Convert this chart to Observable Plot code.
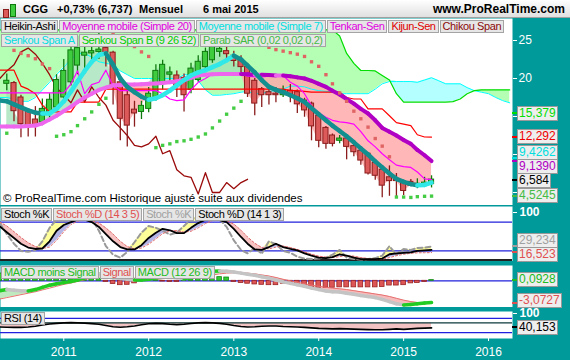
<!DOCTYPE html>
<html><head><meta charset="utf-8">
<script src="https://cdn.jsdelivr.net/npm/d3@7"></script>
<script src="https://cdn.jsdelivr.net/npm/@observablehq/plot@0.6"></script>
<style>
html,body{margin:0;padding:0;background:#ffffff;}
#chart{position:relative;width:570px;height:360px;background:#009a9a;overflow:hidden;font-family:"Liberation Sans",Arial,Helvetica,sans-serif;}
#chart svg{position:absolute;left:0;}
.hdr{position:absolute;left:0;top:0;width:570px;height:17px;background:linear-gradient(#ffffff,#e0e0e0);border-bottom:1px solid #a0a0a0;}
.hdr span{position:absolute;top:2px;font-weight:bold;font-size:11px;line-height:14px;color:#000;white-space:nowrap;}
.hdr span.site{font-size:12px;}
.leg{position:absolute;left:1px;display:flex;gap:1px;}
.leg span{display:block;height:11px;line-height:11px;font-size:11px;letter-spacing:-0.4px;padding:0 2px;background:#e6e6e6;border:1px solid #a4a4a4;white-space:nowrap;}
.val{position:absolute;left:517px;height:13px;line-height:13px;font-size:12px;padding:0 1px;background:#eeeeee;border:1px solid #999;white-space:nowrap;}
.mk{position:absolute;left:512px;width:5px;height:2px;}
.note{position:absolute;left:3px;top:192px;font-size:11.5px;color:#000;white-space:nowrap;}
.boldaxis text{font-weight:bold;}
</style></head>
<body>
<div id="chart"></div>
<script>
// ---------- DATA ----------
const firstMonth = [2010, 3];          // April 2010 = first month of the indicator series
const yearTicks = [2011, 2012, 2013, 2014, 2015, 2016];
const priceTicks = [5, 10, 15, 20, 25];
const priceTickLabels = [20, 25];      // the other tick labels sit under the value boxes
const headerText = ["CGG", "+0,73% (6,737)", "Mensuel", "6 mai 2015", "www.ProRealTime.com"];
const noteText = "© ProRealTime.com  Historique ajusté suite aux dividendes";

// Heikin-Ashi candles, May 2010 .. May 2015
const haOpen  = [19.3,19.4,17.5,15.8,14.6,14.2,15.3,16.2,17.5,19.5, 21.7,23.0,23.3,23.5,24.0,23.4,19.5,17.8,15.9,15.6, 16.0,17.3,19.4,20.5,20.4,20.1,18.5,19.8,21.5,22.4, 23.5,23.6,23.0,22.4,21.5,19.7,18.6,18.2,18.0,17.8, 18.4,18.2,17.1,16.7,15.1,13.5,12.5,11.8,12.1,11.1, 10.5,10.1,8.9,8.0,7.0,6.7,6.4,6.4,6.0,6.1,6.1];
const haClose = [19.7,15.7,14.0,13.6,13.8,16.0,17.2,19.8,21.0,23.7, 24.0,23.4,23.6,23.8,23.4,18.9,14.7,13.8,15.4,16.4, 18.0,21.0,21.8,20.8,19.0,17.8,21.3,22.2,23.5,24.3, 23.9,23.2,22.3,21.5,18.0,16.7,17.8,17.8,17.8,18.4, 17.8,16.6,15.8,13.7,11.8,11.4,11.4,12.1,11.0,10.3, 9.2,7.5,7.2,5.9,6.5,6.5,5.2,5.9,6.15,6.3,6.7];
const haHigh  = [20.6,19.6,17.8,16.0,16.3,17.3,18.0,20.5,22.5,24.5, 25.5,25.0,25.8,26.0,25.5,23.6,20.0,18.5,17.0,17.0, 18.8,21.8,22.4,21.5,21.0,20.6,22.0,23.0,24.0,25.0, 24.8,24.3,23.6,23.0,22.0,20.0,18.8,19.0,18.8,19.0, 19.2,18.5,17.4,16.9,15.3,13.7,12.7,12.5,12.3,11.3, 10.7,10.2,9.0,8.2,8.5,7.5,6.6,6.7,6.8,7.0,7.2];
const haLow   = [18.4,14.3,12.2,12.3,12.3,13.8,14.8,15.8,17.0,19.0, 20.5,20.6,22.0,22.5,21.5,16.5,11.8,11.0,13.6,14.6, 15.5,17.0,18.5,19.5,17.5,15.6,18.0,19.5,21.0,22.0, 22.8,22.5,21.5,20.5,17.5,15.1,16.2,16.5,16.8,17.5, 16.8,15.4,14.9,11.8,10.9,10.7,11.0,11.4,9.3,9.7, 8.6,7.3,6.6,4.3,4.5,4.4,4.6,5.8,5.5,5.8,5.6];

// indicator lines, Apr 2010 .. May 2015
const sma20  = [13.7,13.7,13.7,13.7,13.75,13.8,14.1,14.6,15.1,15.7, 16.3,16.9,17.5,18.0,18.5,18.8,19.1,19.15,19.2,19.2, 19.25,19.3,19.35,19.4,19.5,19.65,19.8,20.1,20.4,20.5, 20.55,20.6,20.6,20.6,20.6,20.55,20.5,20.5,20.45,20.4, 20.4,20.3,20.15,20.0,19.7,19.3,18.9,18.4,17.9,17.3, 16.7,16.0,15.4,14.5,13.5,13.0,12.5,11.9,11.4,10.6,9.9,9.139];
const sma7   = [17.1,17.0,16.6,16.2,15.8,15.5,15.4,15.4,16.0,17.0, 18.3,19.6,21.0,22.2,23.1,23.3,21.8,20.0,18.9,18.2, 17.6,17.2,17.4,17.8,18.4,19.1,19.8,20.4,20.8,21.1, 21.5,21.9,22.4,23.0,22.5,21.7,20.8,19.8,18.9,18.5, 18.2,17.8,17.4,16.9,16.1,15.3,14.5,13.8,13.1,12.4, 11.6,10.8,10.0,9.1,8.3,7.5,6.8,6.4,6.1,5.95,6.0,6.3];
const tenkan = [18.1,18.1,18.1,18.1,18.1,18.1,18.1,18.1,18.1,18.1, 19.3,21.0,18.0,19.2,19.5,21.1,19.0,18.4,18.4,18.4, 18.4,18.4,18.4,18.0,17.3,17.1,17.2,18.5,19.5,20.0, 20.6,20.6,20.6,20.6,20.6,20.3,20.2,20.2,20.3,20.4, 20.4,19.5,19.0,18.0,16.4,15.5,14.9,14.5,14.3,14.2, 14.0,13.0,11.8,11.0,10.1,9.3,8.6,8.4,8.3,7.7,6.8,6.7];
const kijun  = [21.1,21.1,21.1,19.0,18.6,18.0,16.5,15.6,15.6,15.6, 15.6,16.9,16.9,16.9,16.9,18.6,18.6,18.6,18.6,18.6, 18.6,18.6,18.6,18.6,18.6,18.6,18.6,18.6,18.6,18.6, 18.6,18.6,18.6,18.6,18.6,18.6,18.6,18.6,18.6,18.6, 18.6,18.4,18.4,18.3,18.2,18.2,18.2,18.2,18.2,17.5, 17.3,17.3,16.0,16.0,16.0,15.1,14.2,14.0,13.8,12.6,12.3,12.292];
// Chikou span (close shifted 26 months back), Apr 2010 .. Mar 2013
const chikou = [20.0,21.0,21.8,23.5,24.0,23.2,22.0,20.5,18.8,17.8, 16.8,18.5,16.9,18.9,17.5,16.5,14.5,13.5,12.5,11.2, 11.0,11.4,12.4,10.1,10.5,8.0,7.2,7.0,4.8,7.6, 5.0,5.0,6.3,5.5,6.3,6.737];
// Senkou spans (shifted 26 months forward), Apr 2010 .. Apr 2016
const spanA = [17.5,17.5,17.3,17.0,17.0,17.5,18.5,19.5,20.5,21.5, 22.5,23.3,23.3,22.8,22.2,22.0,21.8,21.0,20.5,20.0, 20.0,20.0,20.0,20.0,20.0,20.0,20.5,20.5,19.7,18.5, 17.8,17.8,17.9,18.0,18.2,18.3,18.0,18.0,18.3,18.4, 18.6,19.0,19.0,18.9,18.6,18.4,18.3,18.2,18.0,18.0, 18.0,18.0,18.0,18.6,19.3,19.6,19.6,19.6,19.6,19.5, 19.8,20.1,19.7,19.3,19.3,19.3,18.8,18.4,18.2,18.0, 17.5,17.1,16.8];
const spanB = [26.4,26.4,26.4,26.4,26.4,26.4,26.4,26.4,26.4,26.4, 26.4,26.4,26.4,26.4,26.4,26.4,26.4,26.4,26.4,26.4, 26.4,26.4,26.4,26.4,26.4,26.4,26.4,26.4,26.4,26.4, 26.4,26.4,26.4,26.4,26.4,26.4,26.4,26.4,26.4,26.4, 26.4,26.4,26.4,26.4,26.4,26.4,26.4,26.4,25.6,23.3, 22.0,21.05,21.05,21.0,20.4,19.8,18.0,16.9,16.9,16.9, 16.9,16.9,16.9,16.9,16.95,17.3,18.0,18.4,18.5,18.5, 18.5,18.5,18.5];
// Parabolic SAR, May 2010 .. May 2015
const sar = [12.8,23.7,23.3,23.0,22.6,21.9,21.3,12.4,12.6,13.0, 13.8,14.7,15.6,16.6,17.4,25.9,25.4,24.8,24.2,23.5, 22.9,10.9,11.2,11.4,11.7,11.8,12.0,12.3,12.7,13.5, 14.4,15.3,16.1,17.0,25.0,24.7,24.4,24.1,23.8,23.6, 23.4,23.2,22.9,22.2,21.6,20.5,19.3,18.1,17.0,15.7, 14.7,13.6,12.1,11.1,9.7,4.4,4.4,4.35,4.45,4.5,4.5245];

// Stochastics, Apr 2010 .. May 2015
const stochK = [71,59,47,35,27,24,25,40,62,74, 80,85,85,80,70,55,40,28,23,23, 32,47,58,66,63,57,57,68,78,85, 86,84,80,66,49,35,23,22,28,35, 28,24,21,15,10,6,5,7,13,10, 6,3,3,3,4,13,15,16,17,20,21,22];
const stochD = [80,72,60,48,37,29,25,28,42,60, 75,82,84,83,78,68,55,40,29,24, 26,34,45,56,62,62,59,61,68,77, 83,85,83,76,63,49,36,27,24,28, 30,27,23,18,13,9,7,6,8,10, 9,6,4,3,3,6,10,13,15,16,16.2,16.523];
const stochFastK = [78,55,35,20,18,22,40,68,85,92, 94,95,90,88,62,30,12,6,18,38, 58,72,68,62,54,58,72,86,92,94, 90,86,70,42,22,15,26,14,40,34, 20,16,8,4,3,4,6,12,22,6, 3,2,3,5,10,30,12,24,22,26,27,29.234];
// MACD (12 26 9), Apr 2010 .. May 2015
const macd = [-1.35,-1.2,-1.3,-1.35,-1.4,-1.2,-0.9,-0.6,-0.4,-0.25, -0.1,0.1,0.4,0.7,0.9,0.8,0.4,0.3,0.2,0.1, 0.1,0.2,0.4,0.5,0.5,0.4,0.3,0.4,0.7,1.0, 1.3,1.35,1.3,1.2,1.05,0.9,0.75,0.55,0.35,0.1, -0.15,-0.35,-0.55,-0.75,-1.0,-1.2,-1.4,-1.5,-1.55,-1.7, -1.85,-2.0,-2.15,-2.3,-2.55,-2.85,-3.15,-3.3,-3.25,-3.15,-3.05,-2.98];
const macdSignal = [-2.5,-2.3,-2.1,-1.9,-1.7,-1.5,-1.25,-1.0,-0.75,-0.5, -0.3,-0.1,0.15,0.4,0.65,0.85,0.8,0.65,0.5,0.35, 0.2,0.15,0.2,0.3,0.4,0.45,0.4,0.35,0.45,0.6, 0.8,0.95,1.05,1.1,1.1,1.05,0.95,0.8,0.65,0.45, 0.2,0.0,-0.2,-0.4,-0.6,-0.75,-0.9,-1.0,-1.1,-1.2, -1.35,-1.5,-1.65,-1.8,-1.95,-2.15,-2.4,-2.65,-2.85,-2.97,-3.03,-3.0727];
const macdHist = [1.0,1.0,0.8,0.55,0.3,0.3,0.35,0.4,0.35,0.25, 0.2,0.2,0.3,0.4,0.3,-0.15,-0.45,-0.6,-0.55,-0.35, 0.1,0.2,0.3,-0.1,-0.15,-0.15,0.1,0.2,0.4,0.5, 0.6,0.5,0.45,-0.15,-0.3,-0.4,-0.5,-0.55,-0.6,-0.6, -0.4,-0.45,-0.5,-0.8,-0.95,-0.95,-0.95,-0.95,-0.9,-0.9, -0.9,-0.9,-0.9,-0.9,-0.85,-0.65,-0.65,-0.6,-0.35,-0.3,-0.15,0.0928];
// RSI (14), Apr 2010 .. May 2015
const rsi = [44,43,42,42,44,47,52,56,59,61, 62,61,60,58,55,50,45,43,45,48, 53,57,59,58,55,53,55,58,61,62, 61,59,55,50,46,44,45,47,48,48, 46,45,44,42,40,38,37,36,37,36, 35,34,33,32,32,34,36,34,36,38,39,40.153];
const rsiMid = 61;
const stochLevels = [80, 20];
const rsiLevels = [80, 20];

// last-value boxes on the right axis
const priceLabelValues = [15.379, 12.292, 9.4262, 9.139, 6.584, 4.5245];
const priceLabelText   = ["15,379", "12,292", "9,4262", "9,1390", "6,584", "4,5245"];
const stochLabelValues = [29.234, 16.523];
const stochLabelText   = ["29,234", "16,523"];
const macdLabelValues  = [0.0928, -3.0727];
const macdLabelText    = ["0,0928", "-3,0727"];
const rsiLabelValues   = [40.153];
const rsiLabelText     = ["40,153"];

// legends
const legendPrice1 = ["Heikin-Ashi", "Moyenne mobile (Simple 20)", "Moyenne mobile (Simple 7)", "Tenkan-Sen", "Kijun-Sen", "Chikou Span"];
const legendPrice2 = ["Senkou Span A", "Senkou Span B (9 26 52)", "Parab SAR (0,02 0,02 0,2)"];
const legendStoch  = ["Stoch %K", "Stoch %D (14 3 5)", "Stoch %K", "Stoch %D (14 1 3)"];
const legendMacd   = ["MACD moins Signal", "Signal", "MACD (12 26 9)"];
const legendRsi    = ["RSI (14)"];

// ---------- BUILD ----------
const root = document.getElementById("chart");
const start = new Date(Date.UTC(firstMonth[0], firstMonth[1], 1));
const months = n => d3.utcMonth.range(start, d3.utcMonth.offset(start, n));
const lineDates = months(sma20.length);
const candleDates = lineDates.slice(1, 1 + haOpen.length);
const cloudDates = months(spanA.length);
const chikouDates = lineDates.slice(0, chikou.length);
const X = {type: "utc", domain: [new Date(Date.UTC(2010, 3, 4)), new Date(Date.UTC(2016, 3, 13))]};
const W = 570, MR = 58;
const STYLE = {background: "transparent", color: "white", fontSize: "12px", fontFamily: "'Liberation Sans', Arial, sans-serif", overflow: "hidden"};

const C = {
  red: "#dc5a5a", redDark: "#8a1c1c", green: "#3fcc3f", greenDark: "#0e7a0e",
  sma20Up: "#ee66ee", sma20Down: "#b000c4", sma7Up: "#30e8e8", sma7Down: "#138f8f",
  tenkan: "#ff00ff", kijun: "#ff0000", chikou: "#9a0a0a", spanA: "#00ffff", spanB: "#00dd00",
  cloudGreen: "#b4ffb4", cloudCyan: "#b4ffff", fillUp: "#9fe0b4", fillDown: "#ffaaaa",
  sarUp: "#44cc44", sarDown: "#e06464"
};

const lines = lineDates.map((date, k) => ({date, sma20: sma20[k], sma7: sma7[k], tenkan: tenkan[k], kijun: kijun[k],
  k: stochK[k], d: stochD[k], fk: stochFastK[k], macd: macd[k], sig: macdSignal[k], hist: macdHist[k], rsi: rsi[k]}));
const candles = candleDates.map((date, k) => ({date, o: haOpen[k], c: haClose[k], h: haHigh[k], l: haLow[k], s: sma20[k + 1], sar: sar[k]}));
const cloud = cloudDates.map((date, k) => ({date, a: spanA[k], b: spanB[k]}));
const chik = chikouDates.map((date, k) => ({date, v: chikou[k]}));

function segs(rows, key, up, down) {
  const out = [];
  for (let k = 1; k < rows.length; k++) {
    out.push({x1: rows[k - 1].date, x2: rows[k].date, y1: rows[k - 1][key], y2: rows[k][key], c: rows[k][key] >= rows[k - 1][key] ? up : down});
  }
  return out;
}
const off = (d, n) => d3.utcDay.offset(d, n);
const place = (el, top) => { el.style.top = top + "px"; root.appendChild(el); };

// header
const hdr = document.createElement("div"); hdr.className = "hdr"; root.appendChild(hdr);
const hx = [23, 57, 139, 203];
headerText.slice(0, 4).forEach((t, k) => { const s = document.createElement("span"); s.textContent = t; s.style.left = hx[k] + "px"; hdr.appendChild(s); });
{ const s = document.createElement("span"); s.className = "site"; s.textContent = headerText[4]; s.style.right = "5px"; hdr.appendChild(s); }
[[3, 7, 6, 7, C.red, C.redDark], [10, 2, 6, 11, C.green, C.greenDark]].forEach(([l, t, w, h, f, s]) => {
  const b = document.createElement("div");
  b.style.cssText = `position:absolute;left:${l}px;top:${t + 2}px;width:${w - 2}px;height:${h}px;background:${f};border:1px solid ${s};`;
  hdr.appendChild(b);
});

// ---- price panel ----
const PT = 18, PH = 187;
const price = Plot.plot({
  width: W, height: PH, marginLeft: 0, marginRight: MR, marginTop: 0, marginBottom: 0,
  style: STYLE, color: {type: "identity"},
  x: {...X, axis: null},
  y: {domain: [3.289, 27.895], axis: "right", ticks: priceTicks, tickSize: 4, tickPadding: 2, label: null, tickFormat: d => priceTickLabels.includes(d) ? String(d) : ""},
  marks: [
    Plot.frame({fill: "white", stroke: null}),
    Plot.areaY(cloud, {x: "date", y1: "a", y2: d => Math.max(d.a, d.b), fill: C.cloudGreen, clip: true}),
    Plot.areaY(cloud, {x: "date", y1: "b", y2: d => Math.max(d.a, d.b), fill: C.cloudCyan, clip: true}),
    Plot.areaY(candles, {x: "date", y1: "s", y2: d => Math.max(d.c, d.s), fill: C.fillUp, fillOpacity: 0.75, clip: true}),
    Plot.areaY(candles, {x: "date", y1: "s", y2: d => Math.min(d.c, d.s), fill: C.fillDown, fillOpacity: 0.85, clip: true}),
    Plot.line(cloud, {x: "date", y: "a", stroke: C.spanA, strokeWidth: 1, clip: true}),
    Plot.line(cloud, {x: "date", y: "b", stroke: C.spanB, strokeWidth: 1.2, clip: true}),
    Plot.line(chik, {x: "date", y: "v", stroke: C.chikou, strokeWidth: 1.3, clip: true}),
    Plot.ruleX(candles, {x: "date", y1: "l", y2: "h", stroke: d => d.c >= d.o ? C.greenDark : C.redDark, strokeWidth: 1.3, clip: true}),
    Plot.rect(candles, {x1: d => off(d.date, -11), x2: d => off(d.date, 11), y1: "o", y2: "c", fill: d => d.c >= d.o ? C.green : C.red, stroke: d => d.c >= d.o ? C.greenDark : C.redDark, strokeWidth: 1, clip: true}),
    Plot.line(lines, {x: "date", y: "kijun", stroke: C.kijun, strokeWidth: 1.2, clip: true}),
    Plot.line(lines, {x: "date", y: "tenkan", stroke: C.tenkan, strokeWidth: 1.2, clip: true}),
    Plot.link(segs(lines, "sma20", C.sma20Up, C.sma20Down), {x1: "x1", y1: "y1", x2: "x2", y2: "y2", stroke: "c", strokeWidth: 4, strokeLinecap: "round", clip: true}),
    Plot.link(segs(lines, "sma7", C.sma7Up, C.sma7Down), {x1: "x1", y1: "y1", x2: "x2", y2: "y2", stroke: "c", strokeWidth: 4.5, strokeLinecap: "round", clip: true}),
    Plot.dot(candles, {x: "date", y: "sar", symbol: "square", r: 1.9, fill: d => d.sar > d.c ? C.sarDown : C.sarUp, stroke: null, clip: true})
  ]
});
place(price, PT);

// ---- stochastic panel ----
const ST = 206, SH = 55;
const stoch = Plot.plot({
  width: W, height: SH, marginLeft: 0, marginRight: MR, marginTop: 0, marginBottom: 0,
  style: STYLE, className: "boldaxis", color: {type: "identity"},
  x: {...X, axis: null},
  y: {domain: [-2.08, 112.5], axis: "right", ticks: [100], tickSize: 4, tickPadding: 3, label: null, tickFormat: d => String(d)},
  marks: [
    Plot.frame({fill: "white", stroke: null}),
    Plot.areaY(lines, {x: "date", y1: "k", y2: d => Math.max(d.k, d.fk), fill: "#ffff99", clip: true}),
    Plot.areaY(lines, {x: "date", y1: "k", y2: d => Math.max(d.k, d.d), fill: "#f6c2c2", clip: true}),
    Plot.areaY(lines, {x: "date", y1: "d", y2: d => Math.max(d.k, d.d), fill: "#b4b4e6", clip: true}),
    Plot.ruleY(stochLevels, {stroke: "#2020dd", strokeWidth: 1.2}),
    Plot.ruleY([0], {stroke: "#222", strokeWidth: 3}),
    Plot.line(lines, {x: "date", y: "fk", stroke: "#999", strokeWidth: 2, strokeDasharray: "5,3", clip: true}),
    Plot.line(lines, {x: "date", y: "d", stroke: "#e06a6a", strokeWidth: 1, strokeDasharray: "2,2", clip: true}),
    Plot.line(lines, {x: "date", y: "k", stroke: "#000", strokeWidth: 1.8, clip: true})
  ]
});
place(stoch, ST);

// ---- MACD panel ----
const MT = 265, MH = 42;
const macdPlot = Plot.plot({
  width: W, height: MH, marginLeft: 0, marginRight: MR, marginTop: 0, marginBottom: 0,
  style: STYLE, color: {type: "identity"},
  x: {...X, axis: null},
  y: {domain: [-3.658, 2.096], axis: null},
  marks: [
    Plot.frame({fill: "white", stroke: null}),
    Plot.areaY(lines, {x: "date", y1: "sig", y2: d => Math.max(d.macd, d.sig), fill: "#bfeabf", clip: true}),
    Plot.areaY(lines, {x: "date", y1: "macd", y2: d => Math.max(d.macd, d.sig), fill: "#f6bcbc", clip: true}),
    Plot.ruleY([0], {stroke: "#2020dd", strokeWidth: 1.2}),
    Plot.rect(lines, {x1: d => off(d.date, -10), x2: d => off(d.date, 10), y1: 0, y2: "hist", fill: d => d.hist >= 0 ? "#33cc33" : "#dd5555", stroke: d => d.hist >= 0 ? "#118811" : "#992222", strokeWidth: 0.8, clip: true}),
    Plot.line(lines, {x: "date", y: "sig", stroke: "#e87070", strokeWidth: 1, clip: true}),
    Plot.link(segs(lines, "macd", "#22cc22", "#c4c4c4"), {x1: "x1", y1: "y1", x2: "x2", y2: "y2", stroke: "c", strokeWidth: 3.5, strokeLinecap: "round", clip: true})
  ]
});
place(macdPlot, MT);

// ---- RSI panel + time axis ----
const RT = 311, RH = 27;
const rsiPlot = Plot.plot({
  width: W, height: RH + 22, marginLeft: 0, marginRight: MR, marginTop: 0, marginBottom: 22,
  style: {...STYLE, overflow: "visible"}, className: "boldaxis", color: {type: "identity"},
  x: {...X, axis: "bottom", ticks: yearTicks.map(y => new Date(Date.UTC(y, 0, 1))), tickFormat: d => String(d.getUTCFullYear()), tickSize: 3, tickPadding: 6, label: null},
  y: {domain: [-4.17, 108.33], axis: "right", ticks: [100], tickSize: 4, tickPadding: 3, label: null, tickFormat: d => String(d)},
  marks: [
    Plot.frame({fill: "white", stroke: null}),
    Plot.areaY(lines, {x: "date", y1: () => rsiMid, y2: d => Math.max(d.rsi, rsiMid), fill: "#c4efc4", clip: true}),
    Plot.areaY(lines, {x: "date", y1: "rsi", y2: d => Math.max(d.rsi, rsiMid), fill: "#f2c2c2", clip: true}),
    Plot.ruleY(rsiLevels, {stroke: "#2020dd", strokeWidth: 1.2}),
    Plot.ruleY([rsiMid], {stroke: "#0b3b3b", strokeWidth: 1.2}),
    Plot.line(lines, {x: "date", y: "rsi", stroke: "#000", strokeWidth: 1.6, clip: true})
  ]
});
place(rsiPlot, RT);
rsiPlot.querySelectorAll('[aria-label="x-axis tick label"] text').forEach(t => t.style.fontWeight = "normal");

// ---- legends ----
function legend(items, colors, top) {
  const row = document.createElement("div"); row.className = "leg";
  items.forEach((t, k) => { const s = document.createElement("span"); s.textContent = t; s.style.color = colors[k]; row.appendChild(s); });
  place(row, top);
}
legend(legendPrice1, ["#000", "#e000e0", "#00dede", "#e000e0", "#e00000", "#8b0a0a"], 20);
legend(legendPrice2, ["#00dede", "#00d000", "#44bb44"], 34);
legend(legendStoch, ["#000", "#e05050", "#a0a0a0", "#000"], 208);
legend(legendMacd, ["#22bb22", "#e05050", "#22bb22"], 266);
legend(legendRsi, ["#000"], 312);
{ const n = document.createElement("div"); n.className = "note"; n.textContent = noteText; place(n, 192); }

// ---- value boxes ----
function relax(items, gap, lo, hi) {
  const s = items.slice().sort((a, b) => a.y - b.y);
  s.forEach(d => d.py = d.y);
  for (let it = 0; it < 60; it++) {
    for (let k = 1; k < s.length; k++) {
      const a = s[k - 1], b = s[k], g = b.py - a.py;
      if (g < gap) { const m = (gap - g) / 2; a.py -= m; b.py += m; }
    }
    s.forEach(d => d.py = Math.max(lo, Math.min(hi, d.py)));
  }
}
function boxes(chart, top, h, vals, texts, colors, gap) {
  const sc = chart.scale("y");
  const f = sc.apply ? v => sc.apply(v) : d3.scaleLinear(sc.domain, sc.range);
  const items = vals.map((v, k) => ({y: top + f(v), t: texts[k], c: colors[k]}));
  items.forEach(d => { const m = document.createElement("div"); m.className = "mk"; m.style.background = d.c; place(m, d.y - 1); });
  relax(items, gap, top + 7, top + h - 7);
  items.forEach(d => { const b = document.createElement("div"); b.className = "val"; b.textContent = d.t; b.style.color = d.c; place(b, d.py - 7.5); });
}
boxes(price, PT, PH, priceLabelValues, priceLabelText, ["#00dd00", "#ee0000", "#00dede", "#b000c4", "#000", "#44bb44"], 14);
boxes(stoch, ST, SH, stochLabelValues, stochLabelText, ["#a0a0a0", "#e05050"], 14);
boxes(macdPlot, MT, MH, macdLabelValues, macdLabelText, ["#22bb22", "#e05050"], 12);
boxes(rsiPlot, RT, RH, rsiLabelValues, rsiLabelText, ["#000"], 12);
</script>
</body></html>
